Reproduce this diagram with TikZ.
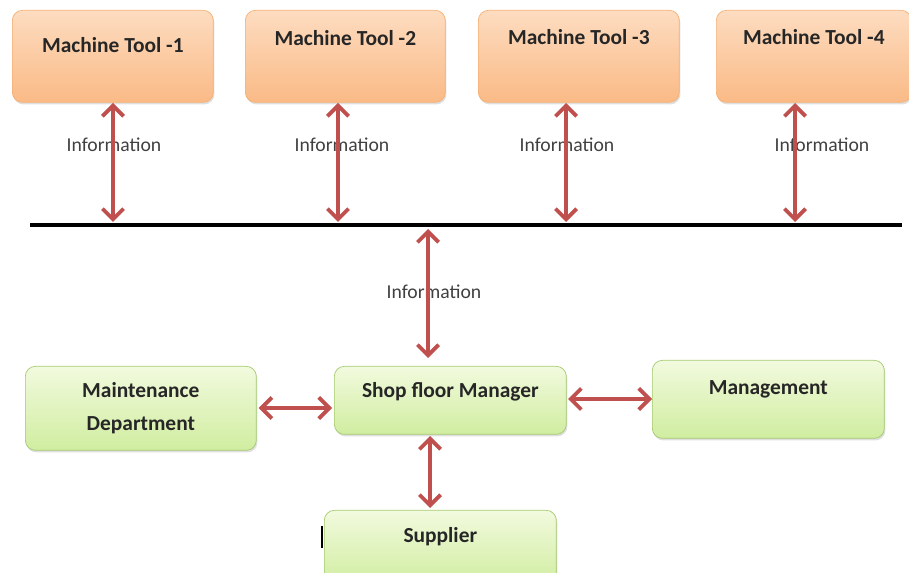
\documentclass[tikz,border=0pt]{standalone}
\usepackage{fontspec}
\setmainfont{Carlito}
\usetikzlibrary{arrows.meta,shadows}

\definecolor{arrowred}{RGB}{192,80,77}
\definecolor{orangetop}{RGB}{253,220,192}
\definecolor{orangebot}{RGB}{250,186,134}
\definecolor{orangeline}{RGB}{246,176,116}
\definecolor{greentop}{RGB}{242,250,222}
\definecolor{greenbot}{RGB}{208,237,160}
\definecolor{greenline}{RGB}{165,202,112}

\tikzset{
  box/.style={rectangle, rounded corners=0.2cm, anchor=north west, inner sep=0pt,
    font=\bfseries\fontsize{12.2}{14}\selectfont, text=black!85,
    drop shadow={opacity=0.25, shadow xshift=0.6pt, shadow yshift=-1.2pt}},
  toolbox/.style={box, draw=orangeline, top color=orangetop, bottom color=orangebot},
  unitbox/.style={box, draw=greenline, top color=greentop, bottom color=greenbot},
  infoarrow/.style={draw=arrowred, line width=2.2pt,
    {Straight Barb[length=6pt,width=12pt]}-{Straight Barb[length=6pt,width=12pt]}},
  infotext/.style={font=\fontsize{11.2}{13}\selectfont, text=black!75}
}

\begin{document}
\begin{tikzpicture}[x=0.02cm, y=-0.02cm]

\useasboundingbox (0,0) rectangle (909,573);

\coordinate (busL) at (30,225);
\coordinate (busR) at (902,225);

\draw [line width=2.3pt, black] (busL) -- (busR);

\node [toolbox, minimum width=4.02cm, text height=0.84cm, text depth=1.0cm] (mt1) at (12,10) {Machine Tool -1};
\node [toolbox, minimum width=4.0cm, text height=0.70cm, text depth=1.14cm] (mt2) at (245,10) {Machine Tool -2};
\node [toolbox, minimum width=4.02cm, text height=0.68cm, text depth=1.16cm] (mt3) at (478,10) {Machine Tool -3};
\node [toolbox, minimum width=3.9cm, text height=0.68cm, text depth=1.16cm] (mt4) at (716,10) {Machine Tool -4};

\node [unitbox, minimum width=4.62cm, minimum height=1.68cm, align=center] (maint) at (25,366) {Maintenance\\[5pt]Department};
\node [unitbox, minimum width=4.64cm, text height=0.62cm, text depth=0.74cm] (sfm) at (334,366) {Shop floor Manager};
\node [unitbox, minimum width=4.64cm, text height=0.68cm, text depth=0.88cm] (mgmt) at (652,360) {Management};
\node [unitbox, minimum width=4.64cm, text height=0.64cm, text depth=0.86cm] (sup) at (324,510) {Supplier};

\node [infotext] (info1) at (114,145) {Information};
\node [infotext] (info2) at (342,145) {Information};
\node [infotext] (info3) at (567,145) {Information};
\node [infotext] (info4) at (822,145) {Information};
\node [infotext] (info5) at (434,292) {Information};

\coordinate (a1) at (113,103);
\coordinate (a2) at (338,103);
\coordinate (a3) at (566,103);
\coordinate (a4) at (795,103);

\draw [infoarrow] (a1) -- (a1 |- 0,222);
\draw [infoarrow] (a2) -- (a2 |- 0,222);
\draw [infoarrow] (a3) -- (a3 |- 0,222);
\draw [infoarrow] (a4) -- (a4 |- 0,222);

\coordinate (c1) at (428,229);
\draw [infoarrow] (c1) -- (c1 |- 0,358);

\draw [infoarrow] (maint.east |- 0,408) ++(2,0) -- (332,408);
\draw [infoarrow] (568,399) -- (mgmt.west |- 0,399);
\draw [infoarrow] (430,436) -- (430,508);

\draw [line width=1.2pt, black] (322,526) -- (322,548);

\end{tikzpicture}
\end{document}
